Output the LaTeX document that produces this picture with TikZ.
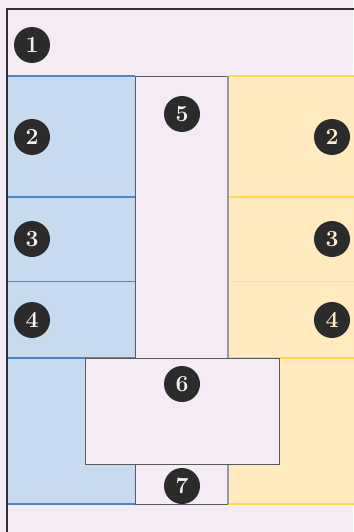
\documentclass[tikz,border=0pt]{standalone}
\usetikzlibrary{positioning}
\definecolor{lav}{HTML}{F5EBF5}
\definecolor{bluef}{HTML}{C7DAF0}
\definecolor{bluel}{HTML}{4A8ACC}
\definecolor{yelf}{HTML}{FFEBBD}
\definecolor{yell}{HTML}{FFD94A}
\definecolor{yellf}{HTML}{F7E3A8}
\definecolor{boxl}{HTML}{5A5A5A}
\definecolor{boxl2}{HTML}{999999}
\definecolor{dot}{HTML}{2B2B2B}
\definecolor{numw}{HTML}{F2F2F2}
\definecolor{numy}{HTML}{FFF0C8}
\tikzset{
  panel/.style={draw=none,inner sep=0pt,outer sep=0pt,anchor=north west},
  badge/.style={circle,fill=dot,draw=none,minimum size=36pt,inner sep=0pt,
    font=\fontsize{23}{23}\selectfont\bfseries},
  badgew/.style={badge,text=numw},
  badgey/.style={badge,text=numy},
}
\begin{document}
\begin{tikzpicture}[x=1pt,y=-1pt]
\useasboundingbox (0,0) rectangle (353,532);
% background
\fill[lav] (0,0) rectangle (353,532);
% blue column
\node[panel,fill=bluef,minimum width=128pt,minimum height=428pt] (blue) at (7,76) {};
% yellow column
\node[panel,fill=yelf,minimum width=130pt,minimum height=428pt] (yellow) at (228,76) {};
% blue dividers
\draw[bluel,line width=1.2pt] (blue.north west) -- (blue.north east);
\coordinate (b1) at (7,197); \coordinate (b1e) at (135,197);
\coordinate (b2) at (7,281); \coordinate (b2e) at (135,281);
\coordinate (b3) at (7,358); \coordinate (b3e) at (135,358);
\draw[bluel,line width=1.4pt] (b1) -- (b1e);
\draw[bluel,line width=0.9pt] (b2) -- (b2e);
\draw[bluel,line width=1.4pt] (b3) -- (b3e);
\draw[bluel,line width=1.4pt] (blue.south west) -- (blue.south east);
% yellow dividers
\draw[yell,line width=1.6pt] (yellow.north west) -- (yellow.north east);
\coordinate (y1) at (228,197); \coordinate (y1e) at (358,197);
\coordinate (y2) at (228,281); \coordinate (y2e) at (358,281);
\coordinate (y3) at (228,358); \coordinate (y3e) at (358,358);
\draw[yell,line width=1.6pt] (y1) -- (y1e);
\draw[yellf,line width=0.9pt] (y2) -- (y2e);
\draw[yell,line width=1.6pt] (y3) -- (y3e);
\draw[yell,line width=1.6pt] (yellow.south west) -- (yellow.south east);
% center boxes
\node[panel,fill=lav,minimum width=93pt,minimum height=282pt] (five) at (135,76) {};
\draw[boxl,line width=0.9pt] (five.south west) -- (five.north west) -- (five.north east);
\draw[boxl2,line width=1.3pt] (five.north east) -- (five.south east);
\node[panel,fill=lav,minimum width=93pt,minimum height=40pt] (seven) at (135,464) {};
\draw[boxl,line width=0.9pt] (seven.north west) -- (seven.south west) -- (seven.south east);
\draw[boxl2,line width=1.3pt] (seven.north east) -- (seven.south east);
\node[panel,fill=lav,draw=boxl,line width=0.9pt,minimum width=194pt,minimum height=106pt] (six) at (85,358) {};
% outer frame
\coordinate (fTL) at (7,9); \coordinate (fTR) at (360,9); \coordinate (fBL) at (7,540);
\draw[black!80,line width=1.4pt] (fBL) -- (fTL) -- (fTR);
% badges
\node[badgew] (n1) at (32,45) {1};
\node[badgew] (n2l) at (32,137) {2};
\node[badgew] (n3l) at (32,239) {3};
\node[badgew] (n4l) at (32,320) {4};
\node[badgey] (n2r) at (332,137) {2};
\node[badgey] (n3r) at (332,239) {3};
\node[badgey] (n4r) at (332,320) {4};
\node[badgew] (n5) at (182,114) {5};
\node[badgew] (n6) at (182,384) {6};
\node[badgew] (n7) at (182,486) {7};
\end{tikzpicture}
\end{document}
